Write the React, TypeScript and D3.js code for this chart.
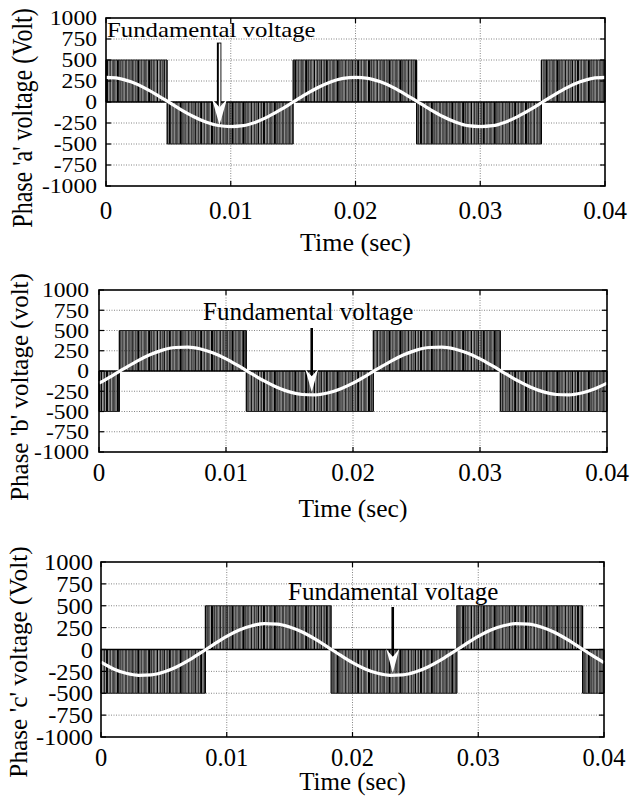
import React from 'react';
import * as d3 from 'd3';

// ---------- DATA ----------
const sampleTimes = [
  0, 0.001, 0.002, 0.003, 0.004, 0.005, 0.006, 0.007, 0.008, 0.009,
  0.01, 0.011, 0.012, 0.013, 0.014, 0.015, 0.016, 0.017, 0.018, 0.019,
  0.02, 0.021, 0.022, 0.023, 0.024, 0.025, 0.026, 0.027, 0.028, 0.029,
  0.03, 0.031, 0.032, 0.033, 0.034, 0.035, 0.036, 0.037, 0.038, 0.039, 0.04,
];

const fundA = [
  292, 282, 240, 174, 92, 2, -90, -172, -238, -280,
  -292, -282, -240, -174, -92, 0, 90, 172, 238, 282,
  292, 282, 240, 174, 92, 0, -90, -172, -238, -282,
  -292, -282, -240, -174, -92, 0, 92, 174, 240, 282, 292,
];
const fundB = [
  -150, -62, 31, 122, 200, 258, 290, 295, 272, 222,
  150, 62, -31, -122, -200, -258, -290, -295, -272, -222,
  -150, -62, 31, 122, 200, 258, 290, 295, 272, 222,
  150, 62, -31, -122, -200, -258, -290, -295, -272, -222, -150,
];
const fundC = [
  -145, -222, -272, -295, -290, -258, -200, -122, -31, 62,
  150, 222, 272, 295, 290, 258, 200, 122, 31, -62,
  -150, -222, -272, -295, -290, -258, -200, -122, -31, 62,
  150, 222, 272, 295, 290, 258, 200, 122, 31, -62, -150,
];

// PWM blocks: [start time, end time, pulse level]
const pwmA: [number, number, number][] = [
  [0, 0.0049, 500], [0.0049, 0.015, -500], [0.015, 0.0249, 500], [0.0249, 0.0349, -500], [0.0349, 0.04, 500],
];
const pwmB: [number, number, number][] = [
  [0, 0.0016, -500], [0.0016, 0.0116, 500], [0.0116, 0.0216, -500], [0.0216, 0.0316, 500], [0.0316, 0.04, -500],
];
const pwmC: [number, number, number][] = [
  [0, 0.0083, -500], [0.0083, 0.0183, 500], [0.0183, 0.0283, -500], [0.0283, 0.0383, 500], [0.0383, 0.04, -500],
];

const yTicks = [1000, 750, 500, 250, 0, -250, -500, -750, -1000];
const xTicks = [0, 0.01, 0.02, 0.03, 0.04];
const xTickLabels = ['0', '0.01', '0.02', '0.03', '0.04'];
const yAxisLabels = ["Phase 'a' voltage (Volt)", "Phase 'b' voltage (volt)", "Phase 'c' voltage (Volt)"];
const xAxisLabel = 'Time (sec)';
const annotationText = 'Fundamental voltage';
// arrow: time, top value, tip value
const arrowTimes = [0.0091, 0.01675, 0.0232];
const arrowTops = [702, 531, 486];
const arrowTips = [-274, -259, -269];

const fundamentals = [fundA, fundB, fundC];
const pwms = [pwmA, pwmB, pwmC];

// ---------- LAYOUT ----------
const layouts = [
  { x0: 106, x1: 605, y0: 18, y1: 186, ytF: 20, ytSx: 1.18, ytGap: 9, xtF: 25, xtBase: 219,
    xlF: 26, xlBase: 251, ylX: 32, ylCy: 118, ylF: 24, ylSx: 1.25,
    annX: 107, annBase: 37, annF: 20, annSx: 1.24, headW: 15, headL: 26, outline: true },
  { x0: 99, x1: 607, y0: 290, y1: 452, ytF: 22, ytSx: 1.07, ytGap: 10, xtF: 25, xtBase: 481,
    xlF: 25.5, xlBase: 517, ylX: 28, ylCy: 387, ylF: 25, ylSx: 1,
    annX: 203, annBase: 320, annF: 25, annSx: 1, headW: 13, headL: 23, outline: false },
  { x0: 101, x1: 604, y0: 562, y1: 737, ytF: 24, ytSx: 1.02, ytGap: 8, xtF: 24.5, xtBase: 766,
    xlF: 25, xlBase: 790, ylX: 27, ylCy: 662, ylF: 25.3, ylSx: 1,
    annX: 288, annBase: 600, annF: 25, annSx: 1, headW: 13, headL: 24, outline: false },
];

const FONT = "'Liberation Serif', 'Times New Roman', Times, serif";

function Txt({ x, y, sx = 1, size, anchor = 'start', rotate = false, dy, children }: any) {
  return (
    <text
      transform={`translate(${x},${y}) scale(${sx},1)${rotate ? ' rotate(-90)' : ''}`}
      style={{ fontFamily: FONT, fontSize: size + 'px' }}
      textAnchor={anchor}
      dy={dy}
      fill="#000"
    >
      {children}
    </text>
  );
}

// irregular vertical-stroke texture used to render the dense PWM pulses
const hatchBars = [
  [0, 1.1], [1.7, 0.8], [3.1, 1.3], [5, 0.7], [6.3, 1.6], [8.5, 0.9], [10, 1.2],
  [11.8, 2.2], [14.5, 0.8], [15.9, 1.1], [17.6, 0.7], [18.9, 1.4], [21, 0.9],
  [22.5, 2.6], [25.6, 0.8], [27, 1.2], [28.8, 0.9], [30.2, 0.8],
];

function Panel({ idx }: { idx: number }) {
  const L = layouts[idx];
  const x = d3.scaleLinear().domain([0, 0.04]).range([L.x0, L.x1]);
  const y = d3.scaleLinear().domain([-1000, 1000]).range([L.y1, L.y0]);
  const fund = fundamentals[idx];
  const line = d3
    .line<number>()
    .x((_, i) => x(sampleTimes[i]))
    .y((d) => y(d))
    .curve(d3.curveMonotoneX);

  const ax = x(arrowTimes[idx]);
  const aTop = y(arrowTops[idx]);
  const aTip = y(arrowTips[idx]);
  const hb = aTip - L.headL;
  const notch = aTip - L.headL * 0.68;

  return (
    <g>
      {/* grid */}
      {yTicks.slice(1, -1).map((t) => (
        <line key={'gy' + t} x1={L.x0} x2={L.x1} y1={y(t)} y2={y(t)} stroke="#777" strokeWidth={0.9} strokeDasharray="1 1.5" />
      ))}
      {xTicks.slice(1, -1).map((t) => (
        <line key={'gx' + t} x1={x(t)} x2={x(t)} y1={L.y0} y2={L.y1} stroke="#777" strokeWidth={0.9} strokeDasharray="1 1.5" />
      ))}
      {/* PWM blocks */}
      {pwms[idx].map(([s, e, lv], i) => (
        <g key={'b' + i}>
          <rect
            x={x(s)}
            width={x(e) - x(s)}
            y={Math.min(y(lv), y(0))}
            height={Math.abs(y(lv) - y(0))}
            fill="url(#hatch)"
          />
          <line x1={x(s)} x2={x(s)} y1={y(0)} y2={y(lv)} stroke="#000" strokeWidth={1.2} />
          <line x1={x(e)} x2={x(e)} y1={y(0)} y2={y(lv)} stroke="#000" strokeWidth={1.2} />
          <line x1={x(s)} x2={x(e)} y1={y(0)} y2={y(0)} stroke="#000" strokeWidth={1.4} />
          <line x1={x(s)} x2={x(e)} y1={y(lv)} y2={y(lv)} stroke="#222" strokeWidth={1} />
        </g>
      ))}
      {/* fundamental */}
      <path d={line(fund) || ''} fill="none" stroke="#fff" strokeWidth={3.2} strokeLinejoin="round" />
      {/* arrow */}
      {L.outline ? (
        <g>
          <rect x={ax - 2.2} y={aTop} width={3.6} height={notch - aTop} fill="#fff" stroke="#000" strokeWidth={0.9} />
          <line x1={ax - 1.6} x2={ax - 1.6} y1={aTop} y2={notch} stroke="#000" strokeWidth={1.8} />
        </g>
      ) : (
        <line x1={ax} x2={ax} y1={aTop} y2={notch} stroke="#000" strokeWidth={2.6} />
      )}
      <path
        d={`M${ax},${aTip} L${ax - L.headW / 2},${hb} L${ax},${notch} L${ax + L.headW / 2},${hb} Z`}
        fill="#fff"
      />
      {/* frame */}
      <rect x={L.x0} y={L.y0} width={L.x1 - L.x0} height={L.y1 - L.y0} fill="none" stroke="#000" strokeWidth={1.6} />
      {/* ticks */}
      {yTicks.map((t) => (
        <g key={'ty' + t}>
          <line x1={L.x0} x2={L.x0 + 5} y1={y(t)} y2={y(t)} stroke="#000" strokeWidth={1.2} />
          <line x1={L.x1 - 5} x2={L.x1} y1={y(t)} y2={y(t)} stroke="#000" strokeWidth={1.2} />
        </g>
      ))}
      {xTicks.map((t) => (
        <g key={'tx' + t}>
          <line x1={x(t)} x2={x(t)} y1={L.y1} y2={L.y1 - 5} stroke="#000" strokeWidth={1.2} />
          <line x1={x(t)} x2={x(t)} y1={L.y0} y2={L.y0 + 5} stroke="#000" strokeWidth={1.2} />
        </g>
      ))}
      {/* tick labels */}
      {yTicks.map((t) => (
        <Txt key={'ly' + t} x={L.x0 - L.ytGap} y={y(t)} sx={L.ytSx} size={L.ytF} anchor="end" dy="0.34em">
          {String(t)}
        </Txt>
      ))}
      {xTicks.map((t, i) => (
        <Txt key={'lx' + t} x={x(t)} y={L.xtBase} size={L.xtF} anchor="middle">
          {xTickLabels[i]}
        </Txt>
      ))}
      {/* axis labels */}
      <Txt x={(L.x0 + L.x1) / 2} y={L.xlBase} size={L.xlF} anchor="middle">
        {xAxisLabel}
      </Txt>
      <Txt x={L.ylX} y={L.ylCy} sx={L.ylSx} size={L.ylF} anchor="middle" rotate>
        {yAxisLabels[idx]}
      </Txt>
      {/* annotation */}
      <Txt x={L.annX} y={L.annBase} sx={L.annSx} size={L.annF}>
        {annotationText}
      </Txt>
    </g>
  );
}

export default function App() {
  return (
    <svg
      width={631}
      height={807}
      viewBox="0 0 631 807"
      style={{ position: 'absolute', left: 0, top: 0, background: '#fff' }}
    >
      <defs>
        <pattern id="hatch" patternUnits="userSpaceOnUse" width={31.4} height={4}>
          {hatchBars.map(([bx, bw], i) => (
            <rect key={i} x={bx} y={0} width={bw} height={4} fill="#000" />
          ))}
        </pattern>
      </defs>
      <rect x={0} y={0} width={631} height={807} fill="#fff" />
      {[0, 1, 2].map((i) => (
        <Panel key={i} idx={i} />
      ))}
    </svg>
  );
}
